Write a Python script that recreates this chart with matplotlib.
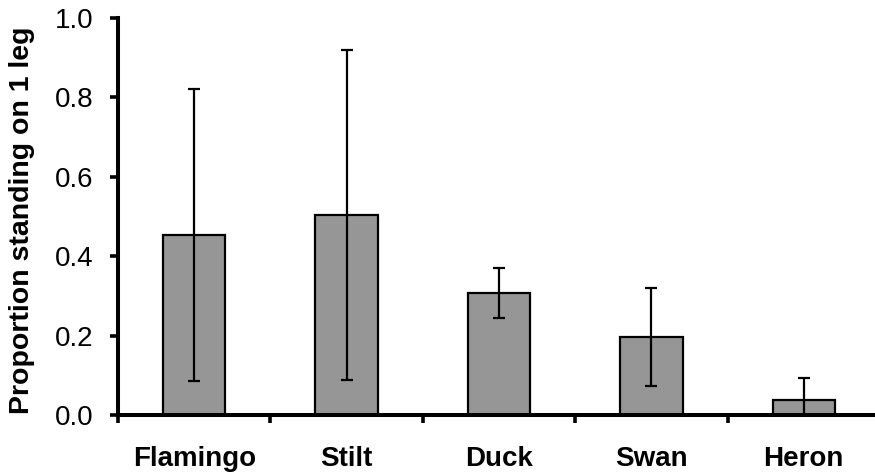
import matplotlib
matplotlib.use("Agg")
import matplotlib.pyplot as plt
import numpy as np

categories = ["Flamingo", "Stilt", "Duck", "Swan", "Heron"]
values = [0.453, 0.504, 0.307, 0.196, 0.038]
errors = [0.368, 0.415, 0.063, 0.124, 0.055]
yticks = [0.0, 0.2, 0.4, 0.6, 0.8, 1.0]

plt.rcParams['font.family'] = ['Liberation Sans', 'DejaVu Sans']

fig = plt.figure(figsize=(8.75, 4.75), dpi=100)
ax = fig.add_axes([118/875, 60/475, (880-118)/875, (415-18)/475])

x = np.arange(len(categories))
ax.bar(x, values, width=0.41, color="#969696", edgecolor="black", linewidth=1.6, zorder=2)
ax.errorbar(x, values, yerr=errors, fmt="none", ecolor="black", elinewidth=1.6,
            capsize=4, capthick=1.6, zorder=3)

ax.set_xlim(-0.5, len(categories) - 0.5)
ax.set_ylim(0, 1.0)
ax.set_yticks(yticks)
ax.set_yticklabels([f"{v:.1f}" for v in yticks], fontsize=20)
ax.set_xticks(x)
ax.set_xticklabels(categories, fontsize=20, fontweight="bold")
ax.tick_params(axis="x", length=0, pad=22)
ax.set_xticks(np.arange(-0.5, len(categories), 1.0), minor=True)
ax.tick_params(axis="x", which="minor", length=6, width=2.6, direction="out")
ax.tick_params(axis="y", length=6, width=2.6, direction="out", pad=12)

for s in ["top", "right"]:
    ax.spines[s].set_visible(False)
for s in ["left", "bottom"]:
    ax.spines[s].set_linewidth(2.9)

ax.set_ylabel("Proportion standing on 1 leg", fontsize=20.5, fontweight="bold")
ax.yaxis.set_label_coords((35 - 118) / 762, 0.49)

fig.savefig("out.png", dpi=100)
